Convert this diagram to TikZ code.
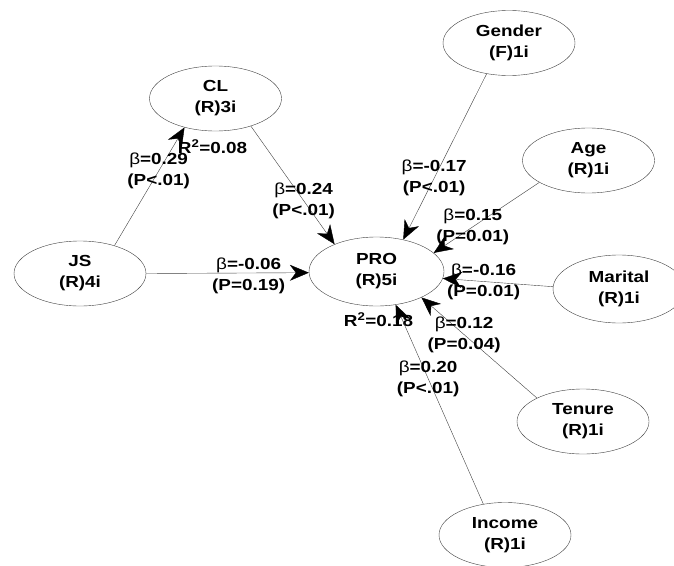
\documentclass[tikz,border=0pt]{standalone}
\usepackage{fontspec}
\setmainfont{Liberation Sans}[FakeStretch=1.18]
\usepackage{tikz}
\usetikzlibrary{arrows.meta,shapes.geometric,positioning}

\newcommand{\bt}{\textmd{β}}

\begin{document}
\begin{tikzpicture}[x=1pt,y=-1pt,->,>={Stealth[length=19pt,width=16pt,inset=6pt,color=black]},
                    thin,draw=black!75,
                    font=\fontsize{16}{21}\selectfont\bfseries]
  \tikzstyle{latent}=[ellipse,draw=black!75,thin,inner sep=0pt,align=center,
                      minimum width=132pt,minimum height=65pt]
  \tikzstyle{lbl}=[pos=0.63,align=center,inner sep=0pt]
  \useasboundingbox (0,0) rectangle (674,565);

  \node[latent] (CL) at (215.5,98.5)
      [label={[label distance=5pt,xshift=-3pt]below:R\textsuperscript{2}=0.08}] {CL\\(R)3i};
  \node[latent] (JS) at (80,273.5) {JS\\(R)4i};
  \node[latent,minimum width=135pt,minimum height=69pt] (PRO) at (376.5,271.5)
      [label={[label distance=3pt,xshift=2pt]below:R\textsuperscript{2}=0.18}] {PRO\\(R)5i};
  \node[latent] (G) at (509,43) {Gender\\(F)1i};
  \node[latent] (A) at (588.5,160.5) {Age\\(R)1i};
  \node[latent,minimum height=68pt] (M) at (619,289) {Marital\\(R)1i};
  \node[latent] (T) at (583,421.5) {Tenure\\(R)1i};
  \node[latent] (I) at (505,535) {Income\\(R)1i};

  \path (JS.39) edge node[lbl] {\bt=0.29\\(P<.01)} (CL.223)
        (JS.0) edge node[lbl,yshift=-3pt] {\bt=-0.06\\(P=0.19)} (PRO.181)
        (CL.322) edge node[lbl] {\bt=0.24\\(P<.01)} (PRO.147)
        (G.234) edge node[lbl] {\bt=-0.17\\(P<.01)} (PRO.50)
        (A.204) edge node[lbl] {\bt=0.15\\(P=0.01)} (PRO.18)
        (M.178) edge node[lbl] {\bt=-0.16\\(P=0.01)} (PRO.-6)
        (T.153) edge node[lbl] {\bt=0.12\\(P=0.04)} (PRO.-30)
        (I.125) edge node[lbl] {\bt=0.20\\(P<.01)} (PRO.-60);
\end{tikzpicture}
\end{document}
